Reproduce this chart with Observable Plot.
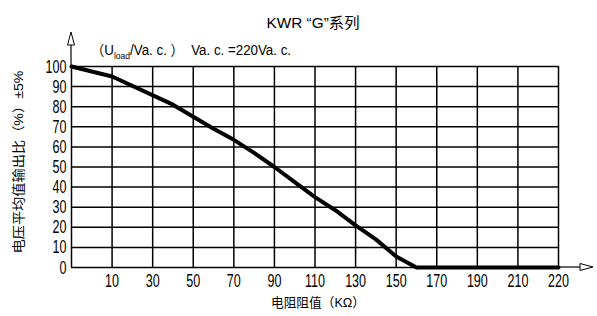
<!DOCTYPE html>
<html><head><meta charset="utf-8">
<script src="https://cdn.jsdelivr.net/npm/d3@7"></script>
<script src="https://cdn.jsdelivr.net/npm/@observablehq/plot@0.6"></script>
<style>html,body{margin:0;padding:0;background:#fff}</style>
</head><body><div id="chart"></div>
<script>
// grid-column positions of the curve (column k = k-th vertical grid line)
const xPos = [0, 1, 2.5, 3, 3.5, 4, 4.5, 5, 5.5, 6, 6.5, 7, 7.5, 8, 8.5, 12];
const outputPct = [100, 95, 81, 75, 69, 63.5, 57, 50, 42.5, 35, 28.5, 21, 14, 5.5, 0, 0];
const xTicks = [1, 2, 3, 4, 5, 6, 7, 8, 9, 10, 11, 12];
const xTickLabels = ["10","30","50","70","90","110","130","150","170","190","210","220"];
const yTicks = [0, 10, 20, 30, 40, 50, 60, 70, 80, 90, 100];
const titleText = "KWR “G”系列";
const yLabelText = "电压平均值输出比（%）±5%";
const xLabelText = "电阻阻值（KΩ）";

const FONT = "'Liberation Sans','Noto Sans CJK SC',sans-serif";
const data = xPos.map((x, i) => ({x, y: outputPct[i]}));
const fmtX = d => xTickLabels[xTicks.indexOf(d)];

const plot = Plot.plot({
  width: 597, height: 316,
  marginLeft: 71, marginRight: 39, marginTop: 66, marginBottom: 49,
  style: {fontFamily: FONT, background: "#fff", color: "#000", overflow: "visible"},
  x: {domain: [0, 12], axis: null},
  y: {domain: [0, 100], axis: null},
  marks: [
    Plot.gridX(xTicks, {stroke: "#000", strokeOpacity: 1, strokeWidth: 1.5}),
    Plot.gridY(yTicks, {stroke: "#000", strokeOpacity: 1, strokeWidth: 1.5}),
    Plot.ruleX([0], {stroke: "#000", strokeWidth: 1.5}),
    Plot.axisX({ticks: xTicks, tickFormat: fmtX, tickSize: 0, tickPadding: 6, label: null}),
    Plot.axisY({ticks: yTicks, tickSize: 0, tickPadding: 5, label: null}),
    Plot.line(data, {x: "x", y: "y", stroke: "#000", strokeWidth: 4, strokeLinejoin: "round"})
  ]
});
document.getElementById("chart").appendChild(plot);

const svg = d3.select(plot);
// tick labels: larger, condensed horizontally (they are the only texts so far)
svg.selectAll("text").each(function() {
  const t = d3.select(this);
  t.style("font-family", FONT).style("font-size", "19px").style("font-weight", "normal");
  const len = this.getComputedTextLength();
  if (len > 0) t.attr("textLength", (len * 0.66).toFixed(2)).attr("lengthAdjust", "spacingAndGlyphs");
});

const xs = plot.scale("x"), ys = plot.scale("y");
const x0 = xs.apply(0), y0 = ys.apply(0), y100 = ys.apply(100), xEnd = xs.apply(12);
// axis arrows
svg.append("line").attr("x1", x0).attr("x2", x0).attr("y1", y100).attr("y2", y100 - 21).attr("stroke", "#000").attr("stroke-width", 1.2);
svg.append("path").attr("d", `M${x0},${y100 - 34}L${x0 - 3.5},${y100 - 21}L${x0 + 3.5},${y100 - 21}Z`).attr("fill", "#fff").attr("stroke", "#000").attr("stroke-width", 1);
svg.append("line").attr("x1", xEnd).attr("x2", xEnd + 22).attr("y1", y0).attr("y2", y0).attr("stroke", "#000").attr("stroke-width", 1.2);
svg.append("path").attr("d", `M${xEnd + 35},${y0}L${xEnd + 22},${y0 - 3.5}L${xEnd + 22},${y0 + 3.5}Z`).attr("fill", "#fff").attr("stroke", "#000").attr("stroke-width", 1);

// title
svg.append("text").attr("x", 313).attr("y", 28).attr("text-anchor", "middle")
  .style("font-family", FONT).style("font-size", "15px").attr("fill", "#000")
  .attr("textLength", 93).attr("lengthAdjust", "spacingAndGlyphs").text(titleText);

// subtitle
const sub = svg.append("text").attr("x", x0 + 20).attr("y", y100 - 11).attr("text-anchor", "start")
  .style("font-family", FONT).style("font-size", "14px").attr("fill", "#000")
  .attr("textLength", 200).attr("lengthAdjust", "spacingAndGlyphs");
sub.append("tspan").text("（U");
sub.append("tspan").style("font-size", "9px").attr("dy", 4).text("load");
sub.append("tspan").attr("dy", -4).text("/Va. c. ）  Va. c. =220Va. c.");

// axis labels
svg.append("text").attr("transform", "translate(18,162) rotate(-90)").attr("text-anchor", "middle")
  .attr("dominant-baseline", "central").style("font-family", FONT).style("font-size", "13px").attr("fill", "#000")
  .attr("textLength", 183).attr("lengthAdjust", "spacingAndGlyphs").text(yLabelText);
svg.append("text").attr("x", 318).attr("y", 307).attr("text-anchor", "middle")
  .style("font-family", FONT).style("font-size", "13px").attr("fill", "#000")
  .attr("textLength", 94).attr("lengthAdjust", "spacingAndGlyphs").text(xLabelText);
</script>
</body></html>
